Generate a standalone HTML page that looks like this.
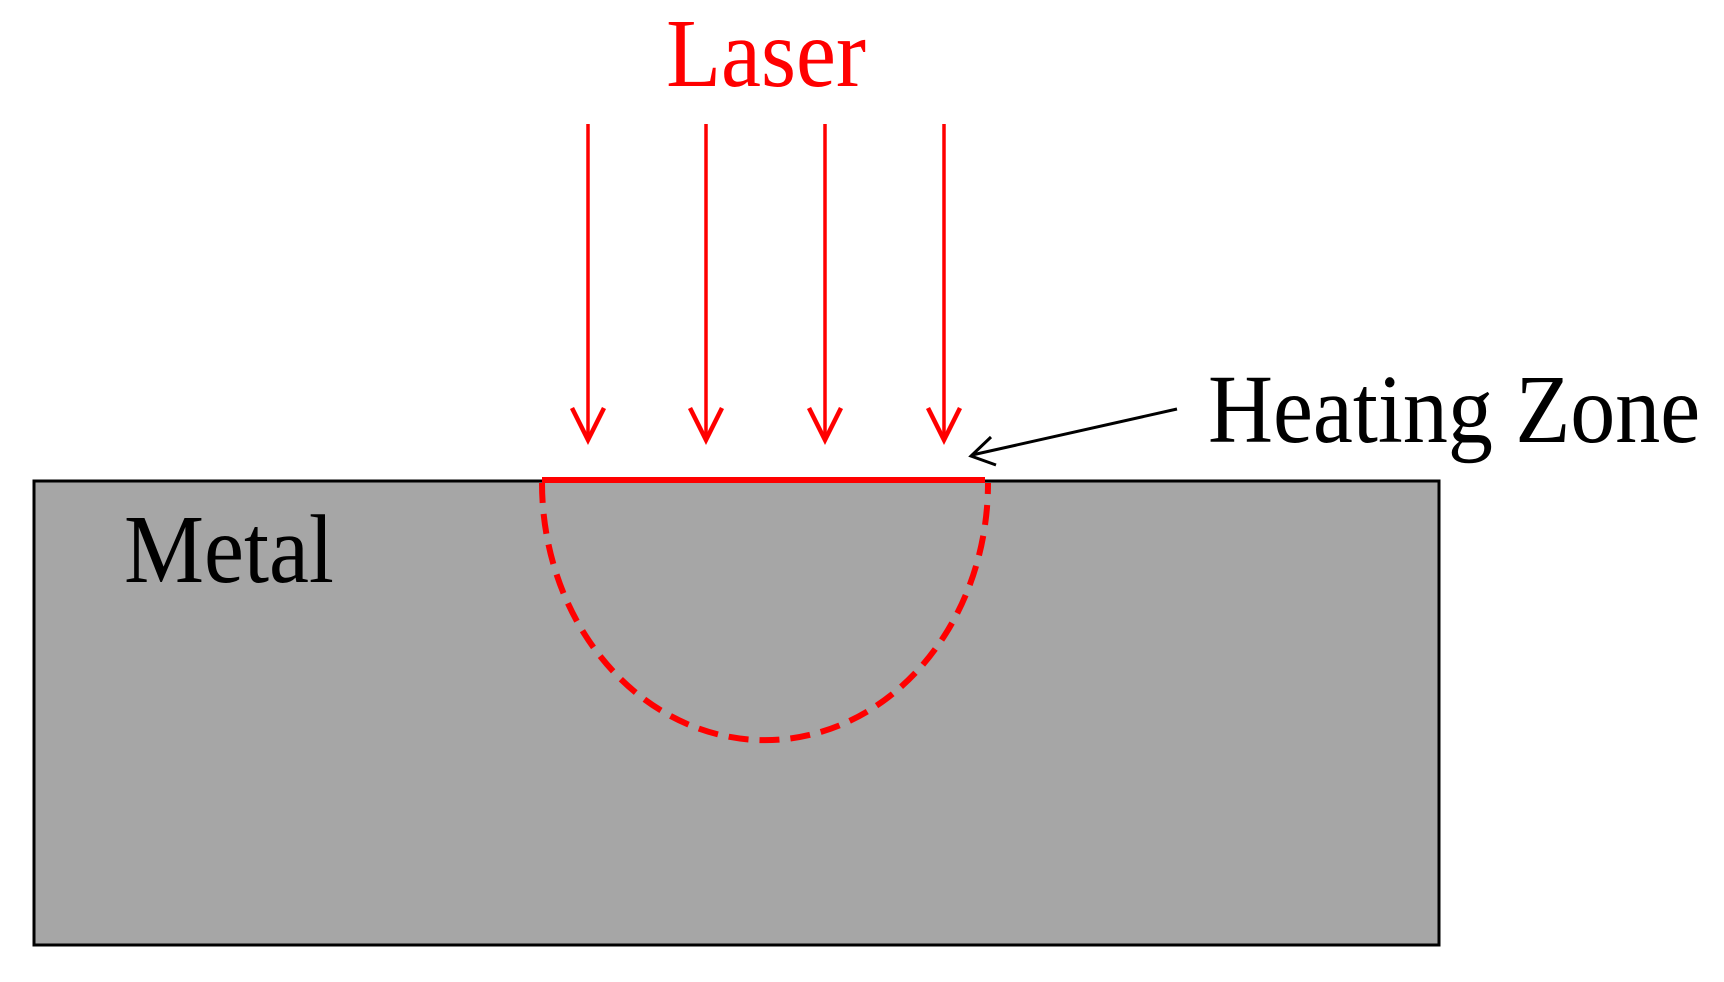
<!DOCTYPE html>
<html><head><style>html,body{margin:0;padding:0;background:#fff;}</style></head>
<body>
<svg width="1724" height="977" viewBox="0 0 1724 977" xmlns="http://www.w3.org/2000/svg">
<rect x="34" y="481" width="1405" height="464" fill="#a6a6a6" stroke="#000" stroke-width="3"/>
<line x1="542" y1="480" x2="985" y2="480" stroke="#ff0000" stroke-width="6"/>
<path d="M542,483 A222,256 0 0 0 988,483" fill="none" stroke="#ff0000" stroke-width="6" stroke-dasharray="20,11"/>
<g stroke="#ff0000" stroke-width="3.5" fill="none">
<line x1="588" y1="124" x2="588" y2="438"/><polyline points="572,408 588,440 604,408" stroke-width="4.5"/>
<line x1="706" y1="124" x2="706" y2="438"/><polyline points="690,408 706,440 722,408" stroke-width="4.5"/>
<line x1="825" y1="124" x2="825" y2="438"/><polyline points="809,408 825,440 841,408" stroke-width="4.5"/>
<line x1="944" y1="124" x2="944" y2="438"/><polyline points="928,408 944,440 960,408" stroke-width="4.5"/>
</g>
<g stroke="#000" stroke-width="3" fill="none">
<line x1="1177" y1="409" x2="972" y2="455"/><polyline points="991,437 971,456 996,465"/>
</g>
<g font-family="'Liberation Serif', serif" font-size="90">
<text x="766" y="86" fill="#ff0000" text-anchor="middle" transform="translate(0,86) scale(1,1.08) translate(0,-86)">Laser</text>
<text x="1208" y="442" fill="#000" transform="translate(0,442) scale(1,1.08) translate(0,-442)">Heating Zone</text>
<text x="124" y="582" fill="#000" transform="translate(0,582) scale(1,1.08) translate(0,-582)">Metal</text>
</g>
</svg>
</body></html>
